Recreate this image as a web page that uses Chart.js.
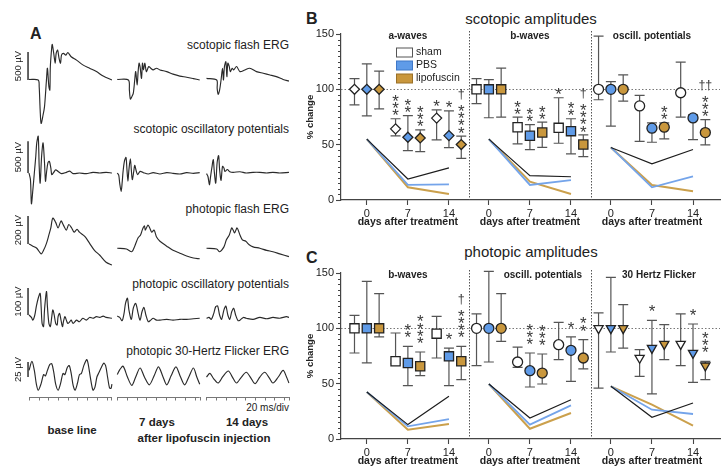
<!DOCTYPE html>
<html><head><meta charset="utf-8">
<script src="https://cdn.jsdelivr.net/npm/chart.js@4.4.1/dist/chart.umd.min.js"></script>
<style>
html,body{margin:0;padding:0;background:#fff;width:728px;height:472px;overflow:hidden;font-family:"Liberation Sans",Arial,sans-serif;}
canvas{position:absolute;}
.t{position:absolute;white-space:nowrap;color:#222;line-height:1;}
.lab{font-size:12px;text-align:right;right:439px;}
.b{font-weight:bold;}
</style></head><body>

<div class="t b" style="left:30px;top:26px;font-size:16px;">A</div>
<div class="t b" style="left:306px;top:10.5px;font-size:16px;">B</div>
<div class="t b" style="left:306px;top:250px;font-size:16px;">C</div>
<div class="t" style="left:431px;width:200px;text-align:center;top:10.6px;font-size:15px;">scotopic amplitudes</div>
<div class="t" style="left:431px;width:200px;text-align:center;top:244px;font-size:15px;">photopic amplitudes</div>

<div class="t lab" style="top:39px;">scotopic flash ERG</div>
<div class="t lab" style="top:122.5px;">scotopic oscillatory potentials</div>
<div class="t lab" style="top:203px;">photopic flash ERG</div>
<div class="t lab" style="top:278px;">photopic oscillatory potentials</div>
<div class="t lab" style="top:345px;">photopic 30-Hertz Flicker ERG</div>
<div class="t" style="right:439px;top:403px;font-size:10px;">20 ms/div</div>
<div class="t b" style="left:22px;width:100px;text-align:center;top:425.3px;font-size:11.5px;">base line</div>
<div class="t b" style="left:107px;width:100px;text-align:center;top:417px;font-size:11.5px;">7 days</div>
<div class="t b" style="left:197px;width:100px;text-align:center;top:417px;font-size:11.5px;">14 days</div>
<div class="t b" style="left:104px;width:200px;text-align:center;top:432.6px;font-size:11.5px;">after lipofuscin injection</div>

<canvas id="r1" width="300" height="100" style="left:0;top:30px"></canvas>
<canvas id="r2" width="300" height="80" style="left:0;top:133px"></canvas>
<canvas id="r3" width="300" height="70" style="left:0;top:205px"></canvas>
<canvas id="r4" width="300" height="50" style="left:0;top:285px"></canvas>
<canvas id="r5" width="300" height="58" style="left:0;top:352px"></canvas>
<canvas id="cB" width="428" height="235" style="left:300px;top:0"></canvas>
<canvas id="cC" width="428" height="235" style="left:300px;top:239px"></canvas>

<script>
// ================= Panel A: ERG traces, [time in ms, amplitude in µV] =================
const scoFlashBase = [[0,10],[19,0],[21,-120],[23,-535],[25,-775],[29,-625],[32,-475],[36,0],[38,210],[41,-120],[43,-180],[44,240],[47,595],[48,635],[51,475],[54,300],[56,475],[59,535],[62,385],[65,300],[67,445],[71,475],[76,445],[80,490],[87,415],[98,355],[111,270],[125,210],[139,150],[153,70],[171,0]];
const scoFlash7 = [[0,10],[23,0],[25,-180],[27,-340],[30,-300],[33,-240],[36,0],[38,150],[41,-90],[43,150],[45,300],[47,240],[50,30],[52,300],[54,180],[57,300],[60,150],[65,240],[69,210],[74,180],[81,210],[88,180],[102,150],[115,105],[129,70],[143,50],[157,25],[170,0]];
const scoFlash14 = [[0,30],[21,0],[22,-150],[24,-255],[27,-180],[30,0],[33,210],[35,0],[37,240],[40,325],[42,60],[44,300],[47,240],[49,150],[53,210],[56,180],[62,240],[69,150],[79,180],[89,210],[103,150],[117,120],[131,90],[144,60],[158,10],[170,-20]];

const scoOPBase = [[0,0],[3,-105],[5,-485],[8,-265],[11,0],[14,265],[16,475],[19,580],[21,105],[23,-160],[26,265],[29,475],[32,160],[34,-130],[36,0],[39,160],[42,185],[45,80],[47,-25],[51,10],[55,50],[60,25],[67,-10],[77,10],[84,30],[91,-10],[104,0],[118,-10],[132,10],[146,0],[159,10],[171,0]];
const scoOP7 = [[0,0],[3,-35],[5,-160],[8,-290],[10,-160],[12,25],[15,195],[18,245],[20,50],[22,-130],[24,50],[27,225],[29,50],[31,-105],[34,25],[36,120],[39,35],[42,-25],[47,25],[54,5],[64,-15],[74,5],[88,-15],[102,5],[115,-5],[129,-15],[143,5],[157,-5],[170,5]];
const scoOP14 = [[0,-10],[3,-55],[6,-185],[8,-80],[11,80],[14,210],[16,25],[19,-160],[22,170],[25,275],[27,55],[30,-115],[33,105],[36,80],[38,25],[43,55],[48,20],[55,10],[69,20],[82,0],[96,10],[110,10],[124,0],[137,10],[151,0],[170,10]];

const phoFlashBase = [[0,0],[8,-15],[16,-30],[25,-70],[30,-45],[36,5],[41,65],[45,115],[49,185],[55,155],[60,115],[66,165],[71,135],[77,100],[82,140],[88,115],[93,85],[99,105],[104,85],[115,55],[125,5],[135,-45],[146,-80],[159,-130],[171,-150]];
const phoFlash7 = [[0,-30],[19,-35],[30,-55],[36,-15],[43,45],[48,65],[52,105],[56,130],[58,100],[63,135],[67,115],[71,85],[76,100],[81,50],[88,20],[102,-15],[115,-45],[129,-65],[143,-85],[157,-100],[170,-105]];
const phoFlash14 = [[0,-30],[21,-35],[27,-55],[36,-20],[41,30],[47,65],[52,115],[55,100],[58,80],[63,115],[69,65],[74,30],[81,20],[88,-5],[96,-20],[110,-30],[124,-45],[137,-55],[151,-70],[170,-90]];

const phoOPBase = [[0,0],[5,-9],[8,-19],[12,0],[15,31],[19,62],[23,80],[25,31],[27,-31],[30,-43],[32,19],[36,87],[38,31],[41,-31],[44,-43],[47,-6],[49,19],[52,0],[55,-31],[58,-37],[60,-6],[63,6],[66,-19],[69,-43],[71,-25],[74,-6],[77,-19],[80,-31],[84,-25],[87,-19],[91,-31],[98,-19],[104,-25],[111,-12],[118,-19],[125,-9],[132,-12],[139,-6],[146,-9],[153,-4],[159,-9],[171,-12]];
const phoOP7 = [[0,-4],[5,-9],[10,-21],[14,6],[17,43],[21,62],[24,19],[29,-16],[33,25],[38,43],[43,6],[47,-19],[51,12],[55,28],[59,0],[64,-25],[69,-19],[74,-12],[81,-19],[88,-19],[102,-16],[115,-19],[129,-16],[143,-16],[157,-14],[170,-12]];
const phoOP14 = [[0,-12],[5,-9],[10,-16],[15,6],[19,31],[23,33],[27,0],[31,-16],[36,19],[40,33],[44,0],[48,-16],[52,12],[56,25],[60,0],[65,-21],[69,-19],[76,-9],[82,-12],[96,-16],[110,-9],[124,-14],[137,-9],[151,-12],[165,-6],[170,-9]];

const flickerBase = [[0,11],[6,26],[11,11],[15,-11],[19,-22],[25,-11],[30,4],[34,2],[38,11],[43,21],[47,22],[51,8],[55,-12],[60,-22],[65,-11],[70,6],[74,4],[79,16],[83,19],[87,6],[91,-14],[95,-22],[100,-10],[104,4],[108,6],[113,19],[119,29],[122,22],[127,-3],[132,-22],[136,-17],[140,0],[144,7],[148,14],[154,23],[158,19],[162,0],[166,-18],[169,-19],[171,-12]];
const flicker7 = [[0,4],[5,12],[12,18],[21,0],[30,-14],[38,0],[47,15],[56,0],[66,-13],[76,2],[85,17],[94,1],[102,-13],[111,2],[121,17],[130,1],[139,-13],[148,1],[157,15],[164,0],[170,-12]];
const flicker14 = [[0,0],[7,6],[15,-3],[24,-10],[34,1],[45,10],[54,-1],[62,-10],[72,0],[82,8],[91,-1],[100,-11],[110,0],[120,8],[129,-1],[137,-10],[148,0],[158,11],[165,0],[170,-10]];

const scaleBarValues = [500, 500, 200, 100, 25];
const scaleBarLabels = ['500 µV', '500 µV', '200 µV', '100 µV', '25 µV'];
const timeTicks = [0, 20, 40, 60, 80, 100, 120, 140, 160, 170];

// ================= Panels B and C: % change (mean, upper, lower whisker, significance) =================
const days = [0, 7, 14];
const seriesNames = ['sham', 'PBS', 'lipofuscin'];

// B scotopic a-waves
const scoA_sham = [100, 64.3, 74], scoA_sham_hi = [109.6, 73.4, 81.5], scoA_sham_lo = [86, 58, 54.3], scoA_sham_sig = ['', '***', '*'];
const scoA_pbs = [100, 56.7, 58.2], scoA_pbs_hi = [123, 76.3, 80.6], scoA_pbs_lo = [76, 44.7, 47.4], scoA_pbs_sig = ['', '**', '*'];
const scoA_lipo = [100, 56.1, 50.1], scoA_lipo_hi = [116.5, 63.4, 57.7], scoA_lipo_lo = [82.4, 43.8, 37.7], scoA_lipo_sig = ['', '***', '†****'];
const scoA_line_sham = [55, 19, 29], scoA_line_pbs = [55, 13.6, 14.2], scoA_line_lipo = [55, 11.5, 5.4];
// B scotopic b-waves
const scoB_sham = [100, 65.8, 65.2], scoB_sham_hi = [109.6, 74.8, 92.4], scoB_sham_lo = [87, 50.7, 51.3], scoB_sham_sig = ['', '**', '*'];
const scoB_pbs = [100, 58, 62.2], scoB_pbs_hi = [108.7, 68.2, 73.4], scoB_pbs_lo = [74.3, 45.6, 41.7], scoB_pbs_sig = ['', '**', '**'];
const scoB_lipo = [100, 61, 50.1], scoB_lipo_hi = [119.2, 70.3, 58.8], scoB_lipo_lo = [74.8, 47.6, 39.2], scoB_lipo_sig = ['', '**', '†****'];
const scoB_line_sham = [55, 22, 21], scoB_line_pbs = [55, 13.6, 18], scoB_line_lipo = [55, 16.6, 5.4];
// B scotopic oscillatory potentials
const scoO_sham = [100, 85, 96.9], scoO_sham_hi = [148, 94.5, 124.6], scoO_sham_lo = [90.6, 53, 74.8], scoO_sham_sig = ['', '', ''];
const scoO_pbs = [100, 64.9, 74.2], scoO_pbs_hi = [107, 69.7, 77], scoO_pbs_lo = [66.7, 52.2, 54.6], scoO_pbs_sig = ['', '', ''];
const scoO_lipo = [100, 65.8, 60.9], scoO_lipo_hi = [113, 69.7, 72.6], scoO_lipo_lo = [89.3, 55.2, 49.8], scoO_lipo_sig = ['', '**', '††***'];
const scoO_line_sham = [47.5, 32.6, 45.6], scoO_line_pbs = [47.5, 11.5, 21.4], scoO_line_lipo = [47.5, 13.6, 7.9];

// C photopic b-waves
const phoB_sham = [100, 70.2, 95.2], phoB_sham_hi = [111.7, 95.8, 110.8], phoB_sham_lo = [77.7, 68, 73.2], phoB_sham_sig = ['', '', ''];
const phoB_pbs = [100, 68.7, 74.7], phoB_pbs_hi = [142.5, 83.7, 82.2], phoB_pbs_lo = [68.7, 48.2, 48.2], phoB_pbs_sig = ['', '**', '*'];
const phoB_lipo = [100, 65.7, 70.2], phoB_lipo_hi = [131.3, 78.6, 83.7], phoB_lipo_lo = [92.2, 57.2, 53.6], phoB_lipo_sig = ['', '****', '†****'];
const phoB_line_sham = [42.5, 13, 38.6], phoB_line_pbs = [42.5, 11.4, 18], phoB_line_lipo = [42.5, 8.4, 13.6];
// C photopic oscillatory potentials
const phoO_sham = [100, 69.6, 85.2], phoO_sham_hi = [113, 83.1, 105.4], phoO_sham_lo = [66.3, 64.8, 71.7], phoO_sham_sig = ['', '', ''];
const phoO_pbs = [100, 61.7, 80.1], phoO_pbs_hi = [151.5, 77.7, 92.2], phoO_pbs_lo = [69.6, 47, 52.1], phoO_pbs_sig = ['', '***', '*'];
const phoO_lipo = [100, 59.6, 73.2], phoO_lipo_hi = [131.3, 76.8, 89.8], phoO_lipo_lo = [88.3, 49.7, 63.3], phoO_lipo_sig = ['', '***', '**'];
const phoO_line_sham = [49.7, 19, 35.5], phoO_line_pbs = [49.7, 13, 30.4], phoO_line_lipo = [49.7, 9.3, 23.5];
// C photopic 30 Hertz flicker
const phoF_sham = [100, 73.2, 85.8], phoF_sham_hi = [113.9, 80.7, 113], phoF_sham_lo = [46, 56.6, 66.3], phoF_sham_sig = ['', '', ''];
const phoF_pbs = [100, 82.2, 77.7], phoF_pbs_hi = [146, 107.2, 103.9], phoF_pbs_lo = [78.6, 40.7, 51.2], phoF_pbs_sig = ['', '*', '*'];
const phoF_lipo = [100, 85.8, 66.3], phoF_lipo_hi = [121.4, 103.3, 70.2], phoF_lipo_lo = [82.2, 71.7, 53.6], phoF_lipo_sig = ['', '', '***'];
const phoF_line_sham = [47.6, 19.6, 32.5], phoF_line_pbs = [47.6, 26.5, 22.6], phoF_line_lipo = [47.6, 31, 12];

const yTicks = [0, 50, 100, 150];

// ================= Rendering =================
Chart.defaults.font.family = '"Liberation Sans", Arial, sans-serif';
Chart.defaults.color = '#222';
const FONT = '"Liberation Sans", Arial, sans-serif';

// ---- Panel A rows ----
const colOffset = [0, 182, 366];
const rowPlugin = {
  id: 'rowDeco',
  afterDatasetsDraw(chart, args, o) {
    const ctx = chart.ctx, x = chart.scales.x, y = chart.scales.y;
    const bx = x.getPixelForValue(-2);
    const y0 = y.getPixelForValue(0), y1 = y.getPixelForValue(o.bar);
    ctx.save();
    ctx.strokeStyle = '#222'; ctx.lineWidth = 1.4;
    ctx.beginPath(); ctx.moveTo(bx, y0); ctx.lineTo(bx, y1); ctx.stroke();
    ctx.save();
    ctx.translate(bx - 9.5, (y0 + y1) / 2); ctx.rotate(-Math.PI / 2);
    ctx.font = '9.5px ' + FONT; ctx.fillStyle = '#222'; ctx.textAlign = 'center'; ctx.textBaseline = 'middle';
    ctx.fillText(o.label, 0, 0);
    ctx.restore();
    if (o.axis) {
      const ay = chart.chartArea.top + 45;
      ctx.strokeStyle = '#777'; ctx.lineWidth = 1;
      colOffset.forEach(off => {
        ctx.beginPath();
        ctx.moveTo(x.getPixelForValue(off), ay + 0.5); ctx.lineTo(x.getPixelForValue(off + 170), ay + 0.5);
        timeTicks.forEach(t => { const px = Math.round(x.getPixelForValue(off + t)) + 0.5; ctx.moveTo(px, ay); ctx.lineTo(px, ay + 3.5); });
        ctx.stroke();
      });
    }
    ctx.restore();
  }
};
function makeRow(id, traces, min, max, bar, label, axis) {
  new Chart(document.getElementById(id), {
    type: 'scatter',
    data: { datasets: traces.map((tr, c) => ({
      data: tr.map(p => ({ x: p[0] + colOffset[c], y: p[1] })),
      showLine: true, borderColor: '#2a2a2a', borderWidth: 1.15, pointRadius: 0, tension: 0.3
    })) },
    options: {
      responsive: false, animation: false, layout: { padding: 0 },
      plugins: { legend: { display: false }, tooltip: { enabled: false }, rowDeco: { bar, label, axis } },
      scales: { x: { type: 'linear', display: false, min: -59.8, max: 558.8 }, y: { display: false, min, max } }
    },
    plugins: [rowPlugin]
  });
}
makeRow('r1', [scoFlashBase, scoFlash7, scoFlash14], -893, 893, scaleBarValues[0], scaleBarLabels[0], false);
makeRow('r2', [scoOPBase, scoOP7, scoOP14], -631, 631, scaleBarValues[1], scaleBarLabels[1], false);
makeRow('r3', [phoFlashBase, phoFlash7, phoFlash14], -221, 279, scaleBarValues[2], scaleBarLabels[2], false);
makeRow('r4', [phoOPBase, phoOP7, phoOP14], -74, 111, scaleBarValues[3], scaleBarLabels[3], false);
makeRow('r5', [flickerBase, flicker7, flicker14], -55, 41.7, scaleBarValues[4], scaleBarLabels[4], true);

// ---- Panels B / C ----
const secOff = [0, 20.8, 41.6];
const seriesShift = [-2.1, 0, 2.1];
const fills = ['#ffffff', '#5f9be8', '#c9973d'];
const lineCols = ['#1c1c1c', '#74a4ea', '#cba04c'];
const lineW = [1.2, 1.8, 2.0];

function ampChart(id, sections, opt) {
  const datasets = [];
  sections.forEach((sec, s) => {
    sec.lines.forEach((ln, k) => datasets.push({
      data: days.map((d, i) => ({ x: secOff[s] + d, y: ln[i] })),
      showLine: true, borderColor: lineCols[k], borderWidth: lineW[k], pointRadius: 0, order: 10, isLine: true
    }));
    sec.series.forEach((se, k) => datasets.push({
      data: days.map((d, i) => ({ x: secOff[s] + d + seriesShift[k], y: se[0][i] })),
      hi: se[1], lo: se[2], sig: se[3],
      pointStyle: sec.style, rotation: sec.rot || 0, pointRadius: sec.r, pointHoverRadius: sec.r,
      backgroundColor: fills[k], borderColor: '#222', borderWidth: 1.3, order: 0
    }));
  });
  const tickVals = [], tickLabs = [];
  secOff.forEach(o => days.forEach(d => { tickVals.push(o + d); tickLabs.push(String(d)); }));

  const deco = {
    id: 'deco',
    beforeDatasetsDraw(chart) {
      const ctx = chart.ctx, x = chart.scales.x, y = chart.scales.y, ca = chart.chartArea;
      ctx.save();
      ctx.strokeStyle = '#444'; ctx.lineWidth = 1;
      ctx.beginPath();
      for (let v = 5; v < 150; v += 5) { if (v % 50 === 0) continue; const py = Math.round(y.getPixelForValue(v)) + 0.5; ctx.moveTo(ca.left - 3, py); ctx.lineTo(ca.left, py); }
      ctx.stroke();
      ctx.strokeStyle = '#777'; ctx.setLineDash([1.5, 2]); ctx.lineWidth = 1;
      const p100 = Math.round(y.getPixelForValue(100)) + 0.5;
      ctx.beginPath(); ctx.moveTo(ca.left, p100); ctx.lineTo(ca.right, p100); ctx.stroke();
      ctx.strokeStyle = '#555'; ctx.setLineDash([1.5, 1.5]);
      [17.4, 38.2].forEach(v => { const px = Math.round(x.getPixelForValue(v)) + 0.5; ctx.beginPath(); ctx.moveTo(px, ca.top - 3); ctx.lineTo(px, ca.bottom); ctx.stroke(); });
      ctx.setLineDash([]);
      ctx.strokeStyle = '#555'; ctx.lineWidth = 1.2;
      chart.data.datasets.forEach(ds => {
        if (ds.isLine) return;
        ds.data.forEach((p, i) => {
          const px = x.getPixelForValue(p.x), ph = y.getPixelForValue(ds.hi[i]), pl = y.getPixelForValue(ds.lo[i]);
          ctx.beginPath();
          ctx.moveTo(px, ph); ctx.lineTo(px, pl);
          ctx.moveTo(px - 5, ph); ctx.lineTo(px + 5, ph);
          ctx.moveTo(px - 5, pl); ctx.lineTo(px + 5, pl);
          ctx.stroke();
        });
      });
      ctx.restore();
    },
    afterDatasetsDraw(chart) {
      const ctx = chart.ctx, x = chart.scales.x, y = chart.scales.y, ca = chart.chartArea;
      ctx.save();
      ctx.fillStyle = '#222'; ctx.textAlign = 'center';
      ctx.font = 'bold 10px ' + FONT; ctx.textBaseline = 'middle';
      sections.forEach((sec, s) => ctx.fillText(sec.name, x.getPixelForValue(sec.hx), ca.top + 2.5));
      ctx.font = 'bold 10.5px ' + FONT;
      secOff.forEach(o => ctx.fillText('days after treatment', x.getPixelForValue(o + 7), ca.bottom + 22.5));
      ctx.fillStyle = '#3a3a3a';
      chart.data.datasets.forEach(ds => {
        if (ds.isLine) return;
        ds.data.forEach((p, i) => {
          const s = ds.sig[i]; if (!s) return;
          const px = x.getPixelForValue(p.x);
          const dag = (s.match(/†/g) || []).length, stars = (s.match(/\*/g) || []).length;
          const bottom = y.getPixelForValue(ds.hi[i]) - opt.gap;
          ctx.font = '17px ' + FONT; ctx.textBaseline = 'alphabetic';
          for (let j = 0; j < stars; j++) ctx.fillText('*', px, bottom - j * 7.3 + 9.6);
          if (dag) {
            ctx.font = '12.5px ' + FONT; ctx.textBaseline = 'middle';
            ctx.fillText('†'.repeat(dag), px, bottom - (stars - 1) * 7.3 - 12.5);
          }
        });
      });
      if (opt.legend) {
        ctx.font = '10.5px ' + FONT; ctx.textAlign = 'left'; ctx.textBaseline = 'middle';
        seriesNames.forEach((n, k) => {
          const cy = ca.top + 18.5 + k * 13;
          ctx.fillStyle = fills[k]; ctx.fillRect(ca.left + 55, cy - 4.5, 16, 9);
          ctx.strokeStyle = k === 0 ? '#555' : (k === 1 ? '#3f78c8' : '#9a7028'); ctx.lineWidth = 1;
          ctx.strokeRect(ca.left + 55.5, cy - 4.5, 16, 9);
          ctx.fillStyle = '#222'; ctx.fillText(n, ca.left + 75, cy);
        });
      }
      ctx.restore();
    }
  };

  new Chart(document.getElementById(id), {
    type: 'scatter',
    data: { datasets },
    options: {
      responsive: false, animation: false,
      layout: { padding: { top: 34, right: 8, left: 0, bottom: 0 } },
      plugins: { legend: { display: false }, tooltip: { enabled: false } },
      scales: {
        x: {
          type: 'linear', min: -4.4, max: 60.2,
          afterBuildTicks: sc => { sc.ticks = tickVals.map(v => ({ value: v })); },
          ticks: { autoSkip: false, maxRotation: 0, padding: 2, font: { size: 11 }, color: '#222', callback: (v, i) => tickLabs[i] },
          grid: { drawOnChartArea: false, drawTicks: true, tickLength: 5, color: '#444', tickWidth: 1.1 },
          border: { color: '#444', width: 1.2 },
          afterFit: sc => { sc.height = 35; }
        },
        y: {
          min: 0, max: 150,
          afterBuildTicks: sc => { sc.ticks = yTicks.map(v => ({ value: v })); },
          ticks: { padding: 2, font: { size: 11 }, color: '#222' },
          grid: { drawOnChartArea: false, drawTicks: true, tickLength: 5, color: '#444', tickWidth: 1.1 },
          border: { color: '#444', width: 1.2 },
          title: { display: true, text: '% change', font: { size: 9.5, weight: 'bold' }, color: '#222', padding: { top: 5, bottom: 0 } },
          afterFit: sc => { sc.width = 41; }
        }
      }
    },
    plugins: [deco]
  });
}

ampChart('cB', [
  { name: 'a-waves', hx: 7, style: 'rectRot', r: 5,
    series: [[scoA_sham, scoA_sham_hi, scoA_sham_lo, scoA_sham_sig], [scoA_pbs, scoA_pbs_hi, scoA_pbs_lo, scoA_pbs_sig], [scoA_lipo, scoA_lipo_hi, scoA_lipo_lo, scoA_lipo_sig]],
    lines: [scoA_line_sham, scoA_line_pbs, scoA_line_lipo] },
  { name: 'b-waves', hx: 27.8, style: 'rect', r: 6.5,
    series: [[scoB_sham, scoB_sham_hi, scoB_sham_lo, scoB_sham_sig], [scoB_pbs, scoB_pbs_hi, scoB_pbs_lo, scoB_pbs_sig], [scoB_lipo, scoB_lipo_hi, scoB_lipo_lo, scoB_lipo_sig]],
    lines: [scoB_line_sham, scoB_line_pbs, scoB_line_lipo] },
  { name: 'oscill. potentials', hx: 48.6, style: 'circle', r: 5,
    series: [[scoO_sham, scoO_sham_hi, scoO_sham_lo, scoO_sham_sig], [scoO_pbs, scoO_pbs_hi, scoO_pbs_lo, scoO_pbs_sig], [scoO_lipo, scoO_lipo_hi, scoO_lipo_lo, scoO_lipo_sig]],
    lines: [scoO_line_sham, scoO_line_pbs, scoO_line_lipo] }
], { gap: 7, legend: true });

ampChart('cC', [
  { name: 'b-waves', hx: 7, style: 'rect', r: 6.5,
    series: [[phoB_sham, phoB_sham_hi, phoB_sham_lo, phoB_sham_sig], [phoB_pbs, phoB_pbs_hi, phoB_pbs_lo, phoB_pbs_sig], [phoB_lipo, phoB_lipo_hi, phoB_lipo_lo, phoB_lipo_sig]],
    lines: [phoB_line_sham, phoB_line_pbs, phoB_line_lipo] },
  { name: 'oscill. potentials', hx: 30, style: 'circle', r: 5,
    series: [[phoO_sham, phoO_sham_hi, phoO_sham_lo, phoO_sham_sig], [phoO_pbs, phoO_pbs_hi, phoO_pbs_lo, phoO_pbs_sig], [phoO_lipo, phoO_lipo_hi, phoO_lipo_lo, phoO_lipo_sig]],
    lines: [phoO_line_sham, phoO_line_pbs, phoO_line_lipo] },
  { name: '30 Hertz Flicker', hx: 49.8, style: 'triangle', rot: 180, r: 5.3,
    series: [[phoF_sham, phoF_sham_hi, phoF_sham_lo, phoF_sham_sig], [phoF_pbs, phoF_pbs_hi, phoF_pbs_lo, phoF_pbs_sig], [phoF_lipo, phoF_lipo_hi, phoF_lipo_lo, phoF_lipo_sig]],
    lines: [phoF_line_sham, phoF_line_pbs, phoF_line_lipo] }
], { gap: 12.5, legend: false });
</script>
</body></html>
